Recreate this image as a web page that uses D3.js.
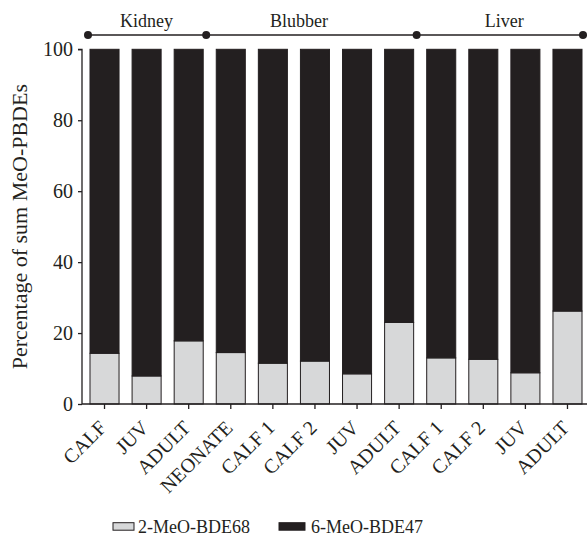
<!DOCTYPE html>
<html>
<head>
<meta charset="utf-8">
<script src="https://cdn.jsdelivr.net/npm/d3@7"></script>
<style>
  body { margin: 0; background: #fff; }
  svg text { font-family: "Liberation Serif", "Times New Roman", serif; fill: #231f20; }
</style>
</head>
<body>
<svg id="chart" width="587" height="535"></svg>
<script>
// Stacked composition of MeO-PBDE congeners by tissue and age class
const categories = ["CALF", "JUV", "ADULT", "NEONATE", "CALF 1", "CALF 2", "JUV", "ADULT", "CALF 1", "CALF 2", "JUV", "ADULT"];
const bde68 = [14.3, 7.9, 17.8, 14.5, 11.5, 12.1, 8.5, 23.0, 13.0, 12.6, 8.8, 26.2];
const bde47 = bde68.map(v => 100 - v);
const seriesNames = ["2-MeO-BDE68", "6-MeO-BDE47"];
const groupNames = ["Kidney", "Blubber", "Liver"];
const groupSizes = [3, 5, 4];
const yTicks = [0, 20, 40, 60, 80, 100];

const ink = "#231f20";
const light = "#d7d8d9";

const svg = d3.select("#chart");
const keys = categories.map((c, i) => i);

const x = d3.scaleBand().domain(keys).range([82, 590]).paddingInner(0.31).paddingOuter(0.19);
const y = d3.scaleLinear().domain([0, 100]).range([404, 49.3]);

// bars: light segment at the base, dark segment stacked above
const rows = keys.map(i => ({ i, a: bde68[i], b: bde47[i] }));
const stack = d3.stack().keys(["a", "b"])(rows);
const fills = [light, ink];

svg.append("g").selectAll("g").data(stack).join("g")
  .attr("fill", (d, k) => fills[k])
  .selectAll("rect").data(d => d).join("rect")
  .attr("x", d => x(d.data.i))
  .attr("width", x.bandwidth())
  .attr("y", d => y(d[1]))
  .attr("height", d => y(d[0]) - y(d[1]))
  .attr("stroke", ink)
  .attr("stroke-width", 1);

// y axis
const yAxis = svg.append("g").attr("transform", "translate(82,0)")
  .call(d3.axisLeft(y).tickValues(yTicks).tickSize(4).tickPadding(5));
yAxis.select(".domain").attr("stroke", ink).attr("stroke-width", 1.3).attr("d", `M-4,${y(100)}H0V${y(0)}`);
yAxis.selectAll(".tick line").attr("stroke", ink).attr("stroke-width", 1.3);
yAxis.selectAll(".tick text").attr("font-size", 20).attr("fill", ink)
  .attr("font-family", "Liberation Serif");

// x axis
const xAxis = svg.append("g").attr("transform", `translate(0,${y(0)})`)
  .call(d3.axisBottom(x).tickSize(5).tickFormat(i => categories[i]));
xAxis.select(".domain").attr("stroke", ink).attr("stroke-width", 1.3).attr("d", `M82,0H587`);
xAxis.selectAll(".tick line").attr("stroke", ink).attr("stroke-width", 1.3);
xAxis.selectAll(".tick text")
  .attr("font-size", 20).attr("fill", ink).attr("font-family", "Liberation Serif")
  .attr("text-anchor", "end")
  .attr("dy", null).attr("y", 0)
  .attr("transform", "translate(3,25) rotate(-45)");

// y axis title
svg.append("text")
  .attr("transform", `translate(27,${(y(0) + y(100)) / 2}) rotate(-90)`)
  .attr("text-anchor", "middle")
  .attr("font-size", 22)
  .text("Percentage of sum MeO-PBDEs");

// tissue brackets across the top
const bracketY = 35;
let start = 0;
const bounds = [x(0) - 2];
const groupCenters = [];
groupSizes.forEach((n, g) => {
  const first = start, last = start + n - 1;
  groupCenters.push((x(first) + x(last) + x.bandwidth()) / 2);
  bounds.push(x(last) + x.bandwidth() + (g < groupSizes.length - 1 ? 3 : 1));
  start += n;
});
const br = svg.append("g");
br.append("line")
  .attr("x1", bounds[0]).attr("x2", bounds[bounds.length - 1])
  .attr("y1", bracketY).attr("y2", bracketY)
  .attr("stroke", ink).attr("stroke-width", 1.3);
br.selectAll("circle").data(bounds).join("circle")
  .attr("cx", d => d).attr("cy", bracketY).attr("r", 4).attr("fill", ink);
const labelShift = [0, -16, 0];
br.selectAll("text").data(groupNames).join("text")
  .attr("x", (d, g) => groupCenters[g] + labelShift[g])
  .attr("y", 27.3)
  .attr("text-anchor", "middle")
  .attr("font-size", 18)
  .text(d => d);

// legend
const legend = svg.append("g");
const legendItems = [
  { name: seriesNames[0], fill: light, bx: 113, bw: 21, tx: 138 },
  { name: seriesNames[1], fill: ink, bx: 279, bw: 26, tx: 311 }
];
legendItems.forEach(it => {
  legend.append("rect").attr("x", it.bx).attr("y", 522.7).attr("width", it.bw).attr("height", 7.5)
    .attr("fill", it.fill).attr("stroke", ink).attr("stroke-width", 1);
  legend.append("text").attr("x", it.tx).attr("y", 532.5).attr("font-size", 18).text(it.name);
});
</script>
</body>
</html>
